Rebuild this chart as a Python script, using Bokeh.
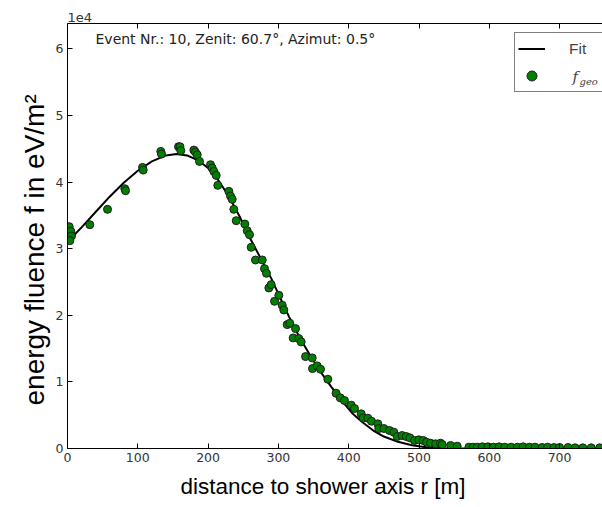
from bokeh.plotting import figure
from bokeh.models import Range1d, FixedTicker, LinearAxis, Label, Legend, LegendItem, ColumnDataSource, Title
from bokeh.embed import file_html
from bokeh.resources import INLINE

# measured data (distance r in m, energy fluence in eV/m^2)
r_points = [2.4, 4.7, 5.7, 3.3, 31.7, 56.9, 81.5, 82.5, 106.7, 107.7, 132.7, 133.7,
            157.9, 160.0, 161.2, 179.7, 182.0, 184.5, 187.8, 203.4, 205.8, 208.2, 211.5,
            213.8, 229.5, 231.9, 234.3, 236.6, 240.0, 252.2, 255.6, 258.9, 261.3, 267.4,
            277.0, 280.2, 283.0, 286.4, 289.7, 294.5, 300.6, 305.4, 307.7, 312.5, 316.2,
            324.3, 321.0, 329.0, 332.4, 338.6, 348.1, 348.5, 355.2, 359.9, 370.3, 382.0,
            388.0, 394.0, 403.6, 408.3, 417.8, 420.6, 427.2, 432.4, 441.4, 442.8, 450.0,
            458.0, 464.2, 469.0, 476.0, 481.8, 487.0, 493.6, 499.7, 506.0, 510.7, 516.4,
            523.5, 530.6, 533.0, 545.0, 554.3, 571.0, 577.0, 582.8, 590.0, 598.0, 606.0,
            614.0, 622.0, 631.0, 640.0, 648.0, 657.0, 665.0, 675.0, 683.0, 692.0, 700.0,
            712.0, 722.0, 733.0, 745.0, 757.0]
f_points = [33300, 32600, 31900, 31200, 33600, 35900, 39000, 38700, 42200, 41800, 44600, 44200,
            45300, 45300, 44700, 44800, 44500, 44100, 43100, 42600, 42100, 41600, 41000,
            39500, 38600, 37900, 37400, 35900, 34200, 33700, 32700, 32100, 30200, 28300,
            28300, 27000, 26300, 24100, 24600, 22100, 23000, 21500, 20800, 18600, 18800,
            18000, 16600, 16500, 16000, 13800, 13600, 12000, 12400, 11900, 10400, 8300,
            7600, 7200, 6500, 6000, 5200, 4600, 4550, 4100, 3700, 3000, 3000,
            2700, 2450, 1800, 1950, 1800, 1600, 1200, 1300, 1200, 950, 800,
            700, 800, 600, 450, 350, 200, 200, 200, 250, 250, 200,
            250, 200, 200, 200, 250, 200, 200, 150, 200, 150, 150,
            150, 100, 100, 100, 100]

r_fit = [0, 20, 40, 60, 80, 100, 120, 140, 155, 170, 185, 200, 215, 230, 245, 260, 275,
         290, 300, 315, 330, 345, 360, 375, 390, 405, 420, 435, 450, 470, 490, 510, 530,
         550, 761]
f_fit = [31000, 33200, 35500, 37800, 39900, 41700, 43100, 44000, 44200, 44000, 43300,
         42100, 40200, 37800, 34800, 31500, 28500, 25500, 23200, 19800, 16700, 14000,
         11500, 9300, 7200, 5300, 3900, 2700, 1800, 1000, 500, 200, 50, 0, 0]

x_ticks = [0, 100, 200, 300, 400, 500, 600, 700]
y_ticks = [0, 10000, 20000, 30000, 40000, 50000, 60000]
y_tick_labels = ["0", "1", "2", "3", "4", "5", "6"]

x_label = "distance to shower axis r [m]"
y_label = "energy fluence f in eV/m\u00b2"

p = figure(width=602, height=507, output_backend="svg", toolbar_location=None,
           x_range=Range1d(0, 761), y_range=Range1d(0, 63800),
           min_border_left=67, min_border_top=23, min_border_bottom=59, min_border_right=0)
p.outline_line_color = None
p.grid.visible = False
p.background_fill_color = "white"
p.border_fill_color = "white"

for ax in [p.xaxis[0], p.yaxis[0]]:
    ax.major_tick_in = 5
    ax.major_tick_out = 0
    ax.minor_tick_line_color = None
    ax.axis_line_color = "black"
    ax.major_tick_line_color = "black"
    ax.major_label_text_font = "DejaVu Sans"
    ax.major_label_text_font_size = "12.5px"
    ax.major_label_text_color = "#333333"
    ax.major_label_standoff = 4

p.xaxis[0].ticker = FixedTicker(ticks=x_ticks)
p.yaxis[0].ticker = FixedTicker(ticks=y_ticks)
p.yaxis[0].major_label_overrides = dict(zip(y_ticks, y_tick_labels))

top = LinearAxis(ticker=FixedTicker(ticks=x_ticks), major_tick_in=5, major_tick_out=0,
                 minor_tick_line_color=None, major_label_text_color=None,
                 major_label_text_font_size="1px",
                 axis_line_color="black", major_tick_line_color="black", major_label_standoff=0)
p.add_layout(top, "above")

# axis titles as layout titles (outside the frame)
p.add_layout(Title(text=x_label, align="left", offset=113, standoff=14,
                   text_font="Liberation Sans", text_font_size="22.5px",
                   text_font_style="normal", text_color="black"), "below")
p.add_layout(Title(text=y_label, align="left", offset=43, standoff=6,
                   text_font="Liberation Sans", text_font_size="28px",
                   text_font_style="normal", text_color="black"), "left")
p.add_layout(Title(text="1e4", align="left", offset=0, standoff=4,
                   text_font="DejaVu Sans", text_font_size="13px",
                   text_font_style="normal", text_color="#333333"), "above")

src_fit = ColumnDataSource(data=dict(r=r_fit, f=f_fit))
src_pts = ColumnDataSource(data=dict(r=r_points, f=f_points))
fit = p.line("r", "f", source=src_fit, line_color="black", line_width=2)
pts = p.scatter("r", "f", source=src_pts, size=8, fill_color="#008000",
                line_color="#1e1e1e", line_width=1)

legend = Legend(items=[LegendItem(label="Fit", renderers=[fit]),
                       LegendItem(label=" ", renderers=[pts])],
                location=(447, 356), border_line_color="black", border_line_width=1,
                label_text_font="Liberation Sans", label_text_font_size="15.5px",
                glyph_width=27, glyph_height=25, label_height=25, label_width=80,
                label_standoff=24, padding=3, spacing=2, margin=0,
                background_fill_alpha=0.0)
p.add_layout(legend, "center")

p.add_layout(Label(x=505, y=372, x_units="screen", y_units="screen", text="f",
                   text_font="DejaVu Serif", text_font_style="italic", level="overlay",
                   text_font_size="15px", text_baseline="middle"))
p.add_layout(Label(x=512, y=367, x_units="screen", y_units="screen", text="geo",
                   text_font="DejaVu Serif", text_font_style="italic", level="overlay",
                   text_font_size="10px", text_baseline="middle"))

p.add_layout(Label(x=28, y=410, x_units="screen", y_units="screen",
                   text="Event Nr.: 10, Zenit: 60.7\u00b0, Azimut: 0.5\u00b0",
                   text_font="DejaVu Sans", text_font_size="14px",
                   text_color="#222222", text_baseline="middle"))

open("out.html", "w").write(file_html(p, INLINE))
